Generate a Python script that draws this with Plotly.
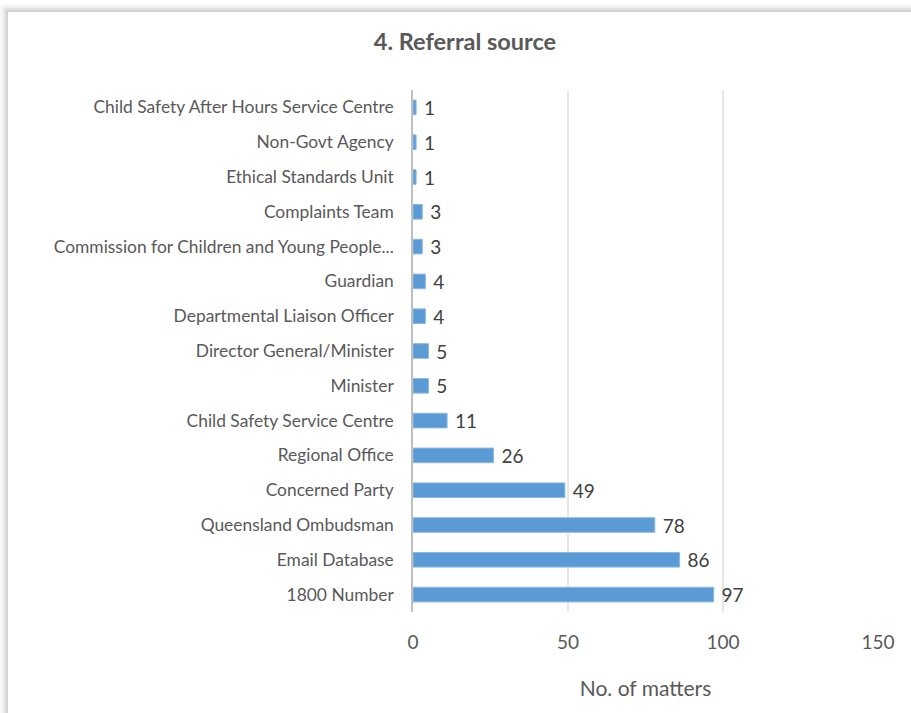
import plotly.graph_objects as go

categories = [
    "1800 Number", "Email Database", "Queensland Ombudsman", "Concerned Party",
    "Regional Office", "Child Safety Service Centre", "Minister",
    "Director General/Minister", "Departmental Liaison Officer", "Guardian",
    "Commission for Children and Young People...", "Complaints Team",
    "Ethical Standards Unit", "Non-Govt Agency", "Child Safety After Hours Service Centre",
]
values = [97, 86, 78, 49, 26, 11, 5, 5, 4, 4, 3, 3, 1, 1, 1]
x_ticks = [0, 50, 100, 150]

W, H = 911, 713
L, R, T, B = 413, 878, 90, 612
FONT = "Lato"

def px(x):
    return (x - L) / (R - L)

def py(y):
    return (B - y) / (B - T)

fig = go.Figure(go.Bar(
    y=categories, x=values, orientation="h",
    marker=dict(color="#5B9BD5", line=dict(color="#8DB8E3", width=1)),
    texttemplate=" %{x}", textposition="outside", constraintext="none",
    textfont=dict(family=FONT, size=19, color="#404040"),
    cliponaxis=False, hoverinfo="skip",
))

shapes = []
for i, a in enumerate([0.025, 0.035, 0.05, 0.07]):
    shapes.append(dict(type="rect", xref="paper", yref="paper", layer="below",
                       x0=px(0 + 2 * i), y0=py(H + 50), x1=px(W + 50), y1=py(4 + 2 * i),
                       fillcolor=f"rgba(0,0,0,{a})", line=dict(width=0)))
shapes.append(dict(type="rect", xref="paper", yref="paper", layer="below",
                   x0=px(8), y0=py(H + 50), x1=px(W + 50), y1=py(12),
                   fillcolor="white", line=dict(width=0)))

fig.update_layout(
    width=W, height=H,
    margin=dict(l=L, r=W - R, t=T, b=H - B),
    paper_bgcolor="white", plot_bgcolor="rgba(0,0,0,0)",
    shapes=shapes,
    bargap=0.58,
    showlegend=False,
    title=dict(text="<b>4. Referral source</b>", x=465 / W, xref="container", xanchor="center",
               y=1 - 42 / H, yref="container", yanchor="middle",
               font=dict(family=FONT, size=23.5, color="#595959")),
    xaxis=dict(range=[0, 150], tickvals=x_ticks, ticktext=[str(t) for t in x_ticks],
               showgrid=True, gridcolor="#e6e6e6", gridwidth=1.5,
               zeroline=False, showline=False,
               ticks="outside", ticklen=13, tickcolor="rgba(0,0,0,0)",
               tickfont=dict(family=FONT, size=19, color="#595959"),
               title=dict(text="No. of matters", standoff=29,
                          font=dict(family=FONT, size=21, color="#595959"))),
    yaxis=dict(showgrid=False, zeroline=False, showline=True, linecolor="#bfbfbf", linewidth=1.5,
               ticks="outside", ticklen=14, tickcolor="rgba(0,0,0,0)",
               tickfont=dict(family=FONT, size=17.4, color="#595959")),
)

fig.write_html("out.html")
